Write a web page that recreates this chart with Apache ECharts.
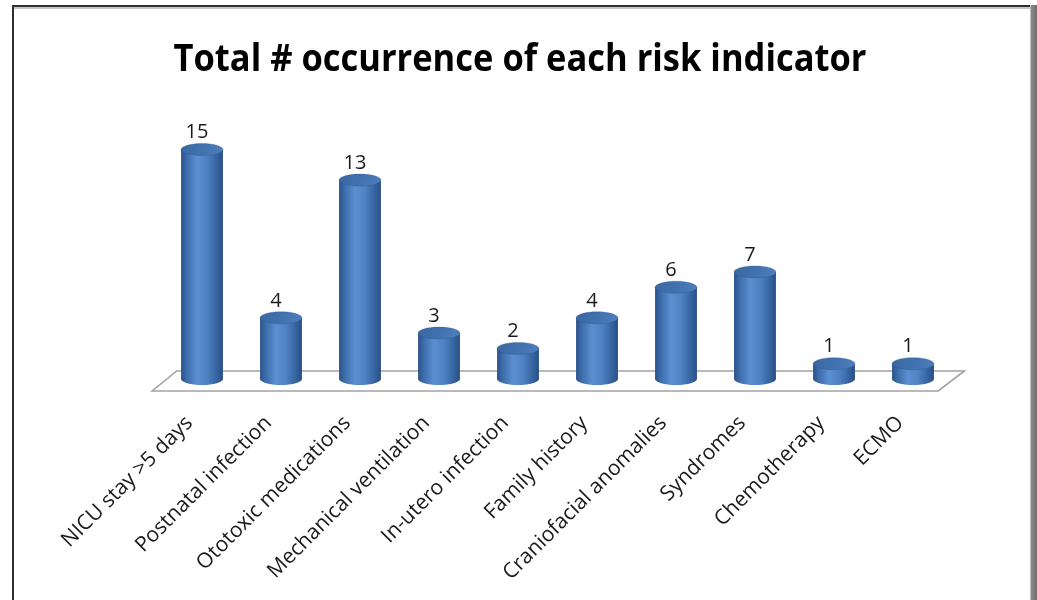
<!DOCTYPE html>
<html>
<head>
<meta charset="utf-8">
<script src="https://cdn.jsdelivr.net/npm/echarts@6/dist/echarts.min.js"></script>
<style>
html,body{margin:0;padding:0;background:#fff;}
#c{width:1037px;height:600px;}
</style>
</head>
<body>
<div id="c"></div>
<script>
const titleText = 'Total # occurrence of each risk indicator';
const categories = ['NICU stay >5 days','Postnatal infection','Ototoxic medications','Mechanical ventilation','In-utero infection','Family history','Craniofacial anomalies','Syndromes','Chemotherapy','ECMO'];
const values = [15, 4, 13, 3, 2, 4, 6, 7, 1, 1];

const chart = echarts.init(document.getElementById('c'), null, {renderer:'canvas'});

// fit title width
const titleFont = '700 38px "Open Sans"';
const mctx = document.createElement('canvas').getContext('2d');
mctx.font = titleFont;
const tw = mctx.measureText(titleText).width;
const titleScale = 693 / tw;

const bodyGrad = () => new echarts.graphic.LinearGradient(0,0,1,0,[
  {offset:0, color:'#2a528b'},
  {offset:0.12, color:'#3b6aa8'},
  {offset:0.38, color:'#5a8fd2'},
  {offset:0.62, color:'#4e82c4'},
  {offset:0.88, color:'#34609c'},
  {offset:1, color:'#284e86'}
]);
const topGrad = () => new echarts.graphic.LinearGradient(0,0,1,1,[
  {offset:0, color:'#3a67a2'},
  {offset:0.6, color:'#4373b0'},
  {offset:1, color:'#4f80bf'}
]);

function renderFloor(params, api){
  const a = api.coord([0, 0]);
  const b = api.coord([categories.length - 1, 0]);
  const band = api.size([1, 0])[0];
  const y = a[1];
  return {
    type:'polygon',
    shape:{points:[
      [a[0] - 0.32*band, y - 8],
      [b[0] + 0.65*band, y - 8],
      [b[0] + 0.32*band, y + 12],
      [a[0] - 0.63*band, y + 12]
    ]},
    style:{fill:'#ffffff', stroke:'#a3a3a3', lineWidth:1.6}
  };
}

function renderBar(params, api){
  const i = api.value(0), v = api.value(1);
  const top = api.coord([i, v]);
  const base = api.coord([i, 0]);
  const band = api.size([1, 0])[0];
  const rx = band * 0.265;
  const ry = 6;
  const cx = top[0];
  return {
    type:'group',
    children:[
      {type:'ellipse', shape:{cx:cx, cy:base[1], rx:rx, ry:ry}, style:{fill:bodyGrad()}},
      {type:'rect', shape:{x:cx-rx, y:top[1], width:2*rx, height:base[1]-top[1]}, style:{fill:bodyGrad()}},
      {type:'ellipse', shape:{cx:cx, cy:top[1], rx:rx, ry:ry}, style:{fill:topGrad(), stroke:'rgba(40,80,130,0.35)', lineWidth:0.8}},
      {type:'text', style:{text:String(v), x:cx-5, y:top[1]-ry-1, align:'center', verticalAlign:'bottom',
        font:'400 20px "Open Sans"', fill:'#1a1a1a'}}
    ]
  };
}

const option = {
  backgroundColor:'#ffffff',
  animation:false,
  grid:{left:162.5, width:790, top:134.2, bottom:221, containLabel:false},
  xAxis:{
    type:'category',
    data:categories,
    boundaryGap:true,
    axisLine:{show:false},
    axisTick:{show:false},
    axisLabel:{rotate:45, margin:28, interval:0, fontFamily:'Open Sans', fontSize:21, color:'#1a1a1a',
      padding:[0,18,0,0]}
  },
  yAxis:{type:'value', min:0, max:16, show:false, splitLine:{show:false}},
  graphic:[
    {type:'rect', left:12, top:5, shape:{width:1020, height:2}, style:{fill:'#2e2e2e'}, z:10},
    {type:'rect', left:12, top:7, shape:{width:1018, height:2}, style:{fill:'#c8c8c8'}, z:10},
    {type:'rect', left:12, top:5, shape:{width:2, height:595}, style:{fill:'#2e2e2e'}, z:10},
    {type:'rect', left:1030, top:5, shape:{width:1, height:595}, style:{fill:'#c0c0c0'}, z:10},
    {type:'rect', left:1031, top:5, shape:{width:6, height:595}, style:{fill:new echarts.graphic.LinearGradient(0,0,1,0,[{offset:0,color:'#8a8a8a'},{offset:1,color:'#6e6e6e'}])}, z:10},
    {type:'text', x:520, y:60, scaleX:titleScale, originX:0, originY:0,
      style:{text:titleText, font:titleFont, fill:'#000', align:'center', verticalAlign:'middle'}, z:10}
  ],
  series:[
    {type:'custom', renderItem:renderFloor, data:[[0,0]], z:1, clip:false, silent:true},
    {type:'custom', renderItem:renderBar, data:values.map((v,i)=>[i,v]), z:2, clip:false, silent:true}
  ]
};
chart.setOption(option);
</script>
</body>
</html>
